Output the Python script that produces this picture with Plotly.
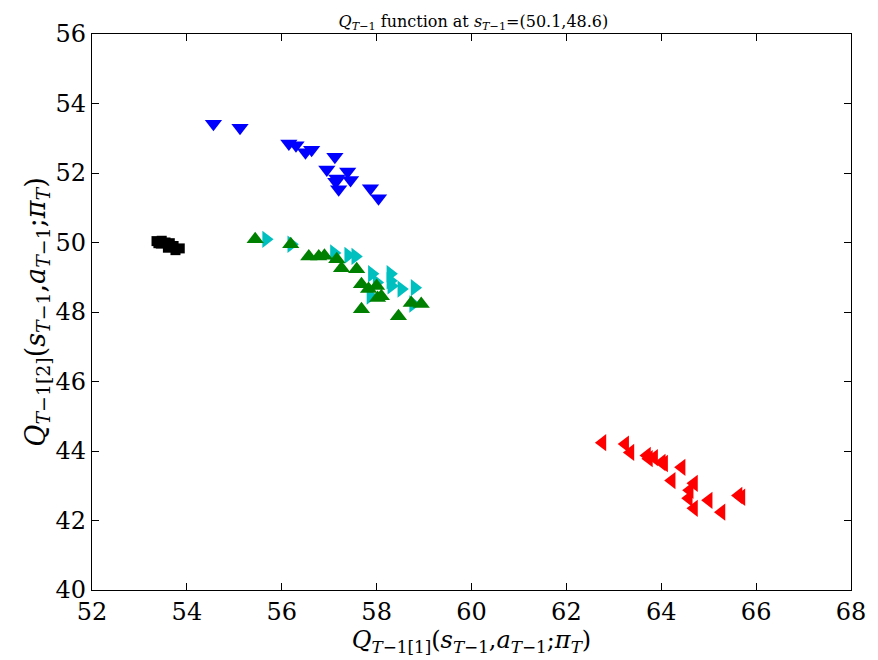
import plotly.graph_objects as go

# Blue (triangle-down)
blue_x = [54.56, 55.12, 56.15, 56.3, 56.5, 56.63, 57.12, 56.95, 57.39, 57.16, 57.45, 57.2, 57.87, 58.04, 57.14]
blue_y = [53.42, 53.3, 52.85, 52.8, 52.6, 52.67, 52.47, 52.1, 52.04, 51.84, 51.8, 51.53, 51.56, 51.27, 51.75]

# Cyan (triangle-right)
cyan_x = [55.67, 56.2, 57.1, 57.4, 57.55, 57.9, 58.0, 58.29, 58.29, 58.52, 58.8, 57.87, 58.31, 58.77]
cyan_y = [50.09, 49.95, 49.7, 49.63, 49.6, 49.1, 48.85, 49.1, 48.9, 48.66, 48.7, 48.46, 48.75, 48.23]

# Green (triangle-up)
green_x = [55.44, 56.19, 56.57, 56.78, 56.9, 57.16, 57.26, 57.58, 57.68, 58.0, 57.83, 58.02, 57.68, 58.46, 58.73, 58.94, 58.1]
green_y = [50.09, 49.95, 49.6, 49.6, 49.62, 49.52, 49.26, 49.23, 48.8, 48.75, 48.66, 48.4, 48.08, 47.88, 48.26, 48.23, 48.45]

# Red (triangle-left)
red_x = [62.76, 63.24, 63.35, 63.7, 63.74, 63.85, 64.01, 64.06, 64.43, 64.22, 64.69, 64.6, 64.58, 64.69, 65.0, 65.27, 65.63, 65.69]
red_y = [44.24, 44.2, 43.96, 43.87, 43.78, 43.81, 43.67, 43.64, 43.53, 43.15, 43.07, 42.87, 42.64, 42.35, 42.58, 42.24, 42.72, 42.67]

# Black (squares)
black_x = [53.36, 53.47, 53.55, 53.64, 53.72, 53.85, 53.6, 53.76, 53.45, 53.4]
black_y = [50.04, 50.05, 50.0, 49.98, 49.9, 49.83, 49.85, 49.78, 49.97, 49.98]

xticks = [52, 54, 56, 58, 60, 62, 64, 66, 68]
yticks = [40, 42, 44, 46, 48, 50, 52, 54, 56]

fig = go.Figure()
fig.add_trace(go.Scatter(x=blue_x, y=blue_y, mode="markers",
                         marker=dict(symbol="triangle-down", size=15, color="#0000ff", line=dict(width=0))))
fig.add_trace(go.Scatter(x=cyan_x, y=cyan_y, mode="markers",
                         marker=dict(symbol="triangle-right", size=15, color="#00bfbf", line=dict(width=0))))
fig.add_trace(go.Scatter(x=green_x, y=green_y, mode="markers",
                         marker=dict(symbol="triangle-up", size=15, color="#008000", line=dict(width=0))))
fig.add_trace(go.Scatter(x=red_x, y=red_y, mode="markers",
                         marker=dict(symbol="triangle-left", size=15, color="#ff0000", line=dict(width=0))))
fig.add_trace(go.Scatter(x=black_x, y=black_y, mode="markers",
                         marker=dict(symbol="square", size=10, color="#000000", line=dict(width=0))))

axis_common = dict(showgrid=False, zeroline=False, showline=True, linecolor="black", linewidth=1.2,
                   mirror="allticks", ticks="inside", ticklen=7, tickcolor="black",
                   tickfont=dict(family="DejaVu Serif", size=24, color="black"))

fig.update_layout(
    width=870, height=652,
    margin=dict(l=84, r=23, t=24, b=70),
    plot_bgcolor="white", paper_bgcolor="white",
    showlegend=False,
    title=dict(text="<i>Q</i><sub><i>T</i>−1</sub> function at <i>s</i><sub><i>T</i>−1</sub>=(50.1,48.6)",
               x=0.535, xanchor="center", y=0.988, yanchor="top",
               font=dict(family="DejaVu Serif", size=16, color="black")),
    xaxis=dict(range=[52, 68], tickvals=xticks, ticktext=[str(v) for v in xticks],
               title=dict(text="<i>Q</i><sub><i>T</i>−1[1]</sub>(<i>s</i><sub><i>T</i>−1</sub>,<i>a</i><sub><i>T</i>−1</sub>;<i>π</i><sub><i>T</i></sub>)",
                          font=dict(family="DejaVu Serif", size=24, color="black"), standoff=4),
               **axis_common),
    yaxis=dict(range=[40, 56], tickvals=yticks, ticktext=[str(v) for v in yticks],
               title=dict(text="<i>Q</i><sub><i>T</i>−1[2]</sub>(<i>s</i><sub><i>T</i>−1</sub>,<i>a</i><sub><i>T</i>−1</sub>;<i>π</i><sub><i>T</i></sub>)",
                          font=dict(family="DejaVu Serif", size=27, color="black"), standoff=2),
               **axis_common),
)

fig.write_html("out.html")
